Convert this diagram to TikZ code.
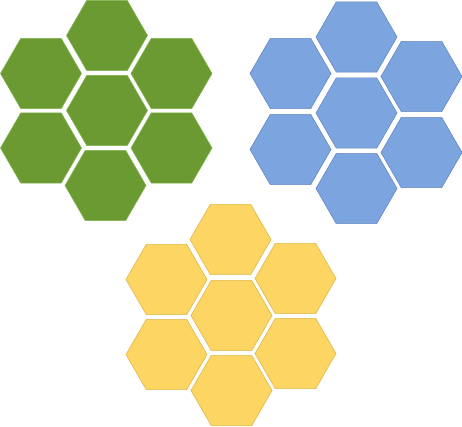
\documentclass[tikz,border=0pt]{standalone}
\usetikzlibrary{shapes.geometric}
\definecolor{gfill}{RGB}{106,154,49}
\definecolor{gline}{RGB}{130,180,80}
\definecolor{bfill}{RGB}{124,165,224}
\definecolor{bline}{RGB}{100,135,195}
\definecolor{yfill}{RGB}{253,213,99}
\definecolor{yline}{RGB}{222,182,72}
\tikzset{
  hexa/.style={regular polygon, regular polygon sides=6, minimum size=81pt,
    inner sep=0pt, outer sep=0pt, line width=0.6pt},
  ghex/.style={hexa, fill=gfill, draw=gline},
  bhex/.style={hexa, fill=bfill, draw=bline},
  yhex/.style={hexa, fill=yfill, draw=yline}
}
\begin{document}
\begin{tikzpicture}[x=1pt,y=-1pt]
\useasboundingbox (0,0) rectangle (462,426);
% green
\node[ghex] (g1) at (107,35.5) {};
\node[ghex] (g2) at (41,73.5) {};
\node[ghex] (g3) at (171.5,73.5) {};
\node[ghex] (g4) at (107,110.5) {};
\node[ghex] (g5) at (41,148) {};
\node[ghex] (g6) at (171.5,148) {};
\node[ghex] (g7) at (105.5,185.5) {};
% blue
\node[bhex] (b1) at (356.5,37) {};
\node[bhex] (b2) at (290.5,73.5) {};
\node[bhex] (b3) at (421.5,76.5) {};
\node[bhex] (b4) at (356.5,113) {};
\node[bhex] (b5) at (290.5,149.5) {};
\node[bhex] (b6) at (421.5,152.5) {};
\node[bhex] (b7) at (356.5,188.5) {};
% yellow
\node[yhex] (y1) at (230.5,239.5) {};
\node[yhex] (y2) at (166.5,279.5) {};
\node[yhex] (y3) at (295.5,278.5) {};
\node[yhex] (y4) at (231.5,315.5) {};
\node[yhex] (y5) at (166.5,354.5) {};
\node[yhex] (y6) at (295.5,353.5) {};
\node[yhex] (y7) at (231.5,390.5) {};
\end{tikzpicture}
\end{document}
